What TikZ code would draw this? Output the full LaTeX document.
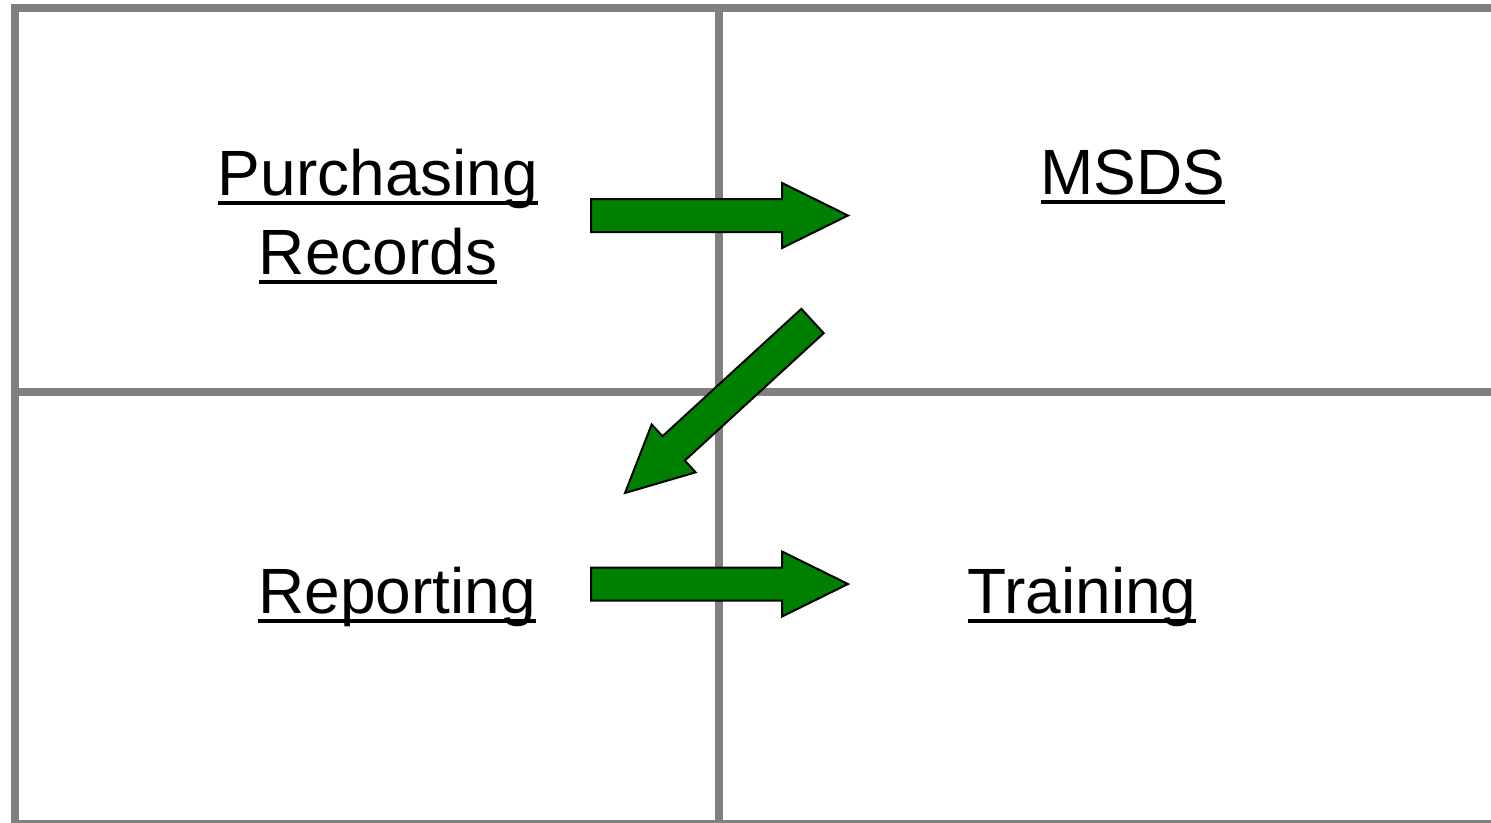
\documentclass[tikz,border=0pt]{standalone}
\usepackage{fontspec}
\setmainfont{Liberation Sans}
\usetikzlibrary{calc}
\definecolor{gridgray}{RGB}{128,128,128}
\definecolor{arrowgreen}{RGB}{0,128,0}
% underline at a fixed depth below the baseline
\newcommand{\ulword}[1]{\setbox0\hbox{#1}\rlap{\rule[-10pt]{\wd0}{4.5pt}}\box0}
% block arrow from #1 (tail) to #2 (tip)
\newcommand{\flowarrow}[2]{%
  \coordinate (hb) at ($(#2)!66pt!(#1)$);
  \draw[flow] ($(#1)!16.5pt!90:(#2)$) -- ($(hb)!16.5pt!90:(#2)$) -- ($(hb)!32.5pt!90:(#2)$)
    -- (#2) -- ($(hb)!32.5pt!-90:(#2)$) -- ($(hb)!16.5pt!-90:(#2)$) -- ($(#1)!16.5pt!-90:(#2)$) -- cycle;}

\begin{document}
\begin{tikzpicture}[x=1pt,y=-1pt]
    \tikzset{cell/.style = {draw=gridgray,line width=8pt}}
    \tikzset{celltext/.style = {font=\fontsize{64}{79}\selectfont,inner sep=0pt,anchor=base,align=center}}
    \tikzset{flow/.style = {draw=black,fill=arrowgreen,line width=2pt,line join=miter}}
    \useasboundingbox (0,0) rectangle (1491,822);
    % cells
    \draw[cell,line join=miter] (1495,8) -- (15,8) -- (15,830);
    \draw[cell] (11,824) -- (1495,824);
    \draw[cell] (719,8) -- (719,824);
    \draw[cell] (15,392) -- (1495,392);

    % arrow ends
    \coordinate (purch-out) at (591,215.5);
    \coordinate (msds-in) at (848,215.5);
    \coordinate (msds-out) at (812.5,321);
    \coordinate (rep-in) at (625,493);
    \coordinate (rep-out) at (591,584);
    \coordinate (train-in) at (848,584);

    % arrows
    \flowarrow{purch-out}{msds-in}
    \flowarrow{msds-out}{rep-in}
    \flowarrow{rep-out}{train-in}

    % labels (base = last line)
    \node[celltext] (purch) at (378,274) {\ulword{Purchasing}\\\ulword{Records}};
    \node[celltext] (msds) at (1133,194) {\ulword{MSDS}};
    \node[celltext] (rep) at (397,613) {\ulword{Reporting}};
    \node[celltext] (train) at (1082,613) {\ulword{Training}};
\end{tikzpicture}
\end{document}
